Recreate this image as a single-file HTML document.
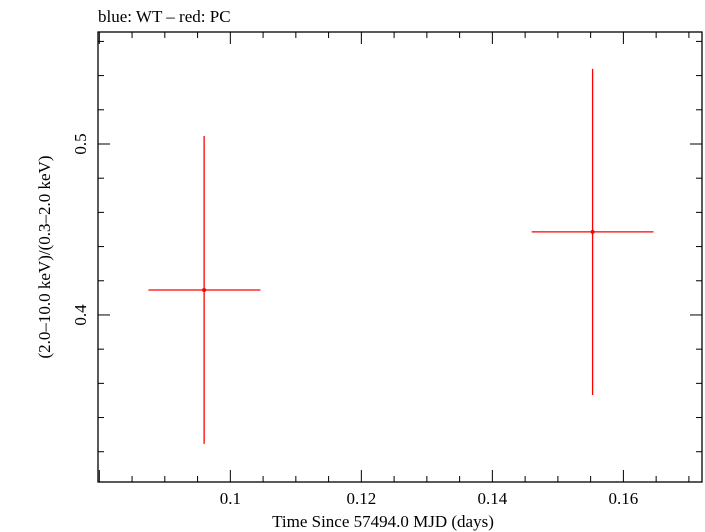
<!DOCTYPE html>
<html><head><meta charset="utf-8"><style>
html,body{margin:0;padding:0;background:#fff;}
svg{display:block;font-family:"Liberation Serif",serif;}
</style></head><body>
<svg id="chart" width="705" height="532" viewBox="0 0 705 532">
<text x="98" y="22" font-size="17" fill="#000">blue: WT – red: PC</text>
<rect x="98" y="32" width="604" height="450" fill="none" stroke="#000" stroke-width="1.3"/>
<g id="ticks"></g>
<g id="marks"></g>
<text x="383" y="527" font-size="17" text-anchor="middle">Time Since 57494.0 MJD (days)</text>
<text transform="translate(50,257) rotate(-90)" font-size="17" text-anchor="middle">(2.0–10.0 keV)/(0.3–2.0 keV)</text>
</svg>
<script>
const xTicks=[0.1,0.12,0.14,0.16];
const xTickLabels=["0.1","0.12","0.14","0.16"];
const yTicks=[0.4,0.5];
const yTickLabels=["0.4","0.5"];
const times=[0.096,0.1553];
const timeLo=[0.0875,0.146];
const timeHi=[0.1046,0.1646];
const ratios=[0.4146,0.4486];
const ratioLo=[0.3246,0.3532];
const ratioHi=[0.5047,0.5439];

const L=98,R=702,T=32,B=482;
const xMin=0.0798,xMax=0.1720,yMin=0.3023,yMax=0.5655;
const X=v=>L+(v-xMin)/(xMax-xMin)*(R-L);
const Y=v=>B-(v-yMin)/(yMax-yMin)*(B-T);
const NS="http://www.w3.org/2000/svg";
function mk(tag,attrs,parent){const e=document.createElementNS(NS,tag);for(const k in attrs)e.setAttribute(k,attrs[k]);parent.appendChild(e);return e;}
const tg=document.getElementById('ticks');
for(let k=16;k*0.005<=xMax+1e-9;k++){
  const v=k*0.005;
  const major=(k%4===0);
  const len=major?12:6;const x=X(v);
  if(x<L)continue;
  const a=mk('line',{x1:x,x2:x,y1:B,y2:B-len,stroke:'#000','stroke-width':1},tg);
  
  
  const b=mk('line',{x1:x,x2:x,y1:T,y2:T+len,stroke:'#000','stroke-width':1},tg);
  
  
}
for(let k=16;k*0.02<=yMax+1e-9;k++){
  const v=k*0.02;
  if(v<yMin)continue;
  const major=(k%5===0);
  const len=major?12:6;const y=Y(v);
  const a=mk('line',{x1:L,x2:L+len,y1:y,y2:y,stroke:'#000','stroke-width':1},tg);
  
  
  const b=mk('line',{x1:R,x2:R-len,y1:y,y2:y,stroke:'#000','stroke-width':1},tg);
  
  
}
xTicks.forEach((v,i)=>{
  const t=mk('text',{x:X(v),y:B+22,'font-size':17,'text-anchor':'middle'},tg);
  t.textContent=xTickLabels[i];
  
  
});
yTicks.forEach((v,i)=>{
  const t=mk('text',{transform:`translate(${L-12},${Y(v)}) rotate(-90)`,'font-size':17,'text-anchor':'middle'},tg);
  t.textContent=yTickLabels[i];
  
  
});
const mg=document.getElementById('marks');
times.forEach((t,i)=>{
  const h=mk('line',{x1:X(timeLo[i]),x2:X(timeHi[i]),y1:Y(ratios[i]),y2:Y(ratios[i]),stroke:'#f00','stroke-width':1.3},mg);
  
  
  const v=mk('line',{x1:X(t),x2:X(t),y1:Y(ratioLo[i]),y2:Y(ratioHi[i]),stroke:'#f00','stroke-width':1.3},mg);
  
  
  const c=mk('circle',{cx:X(t),cy:Y(ratios[i]),r:2,fill:'#f00'},mg);
  
  
});
</script>
</body></html>
